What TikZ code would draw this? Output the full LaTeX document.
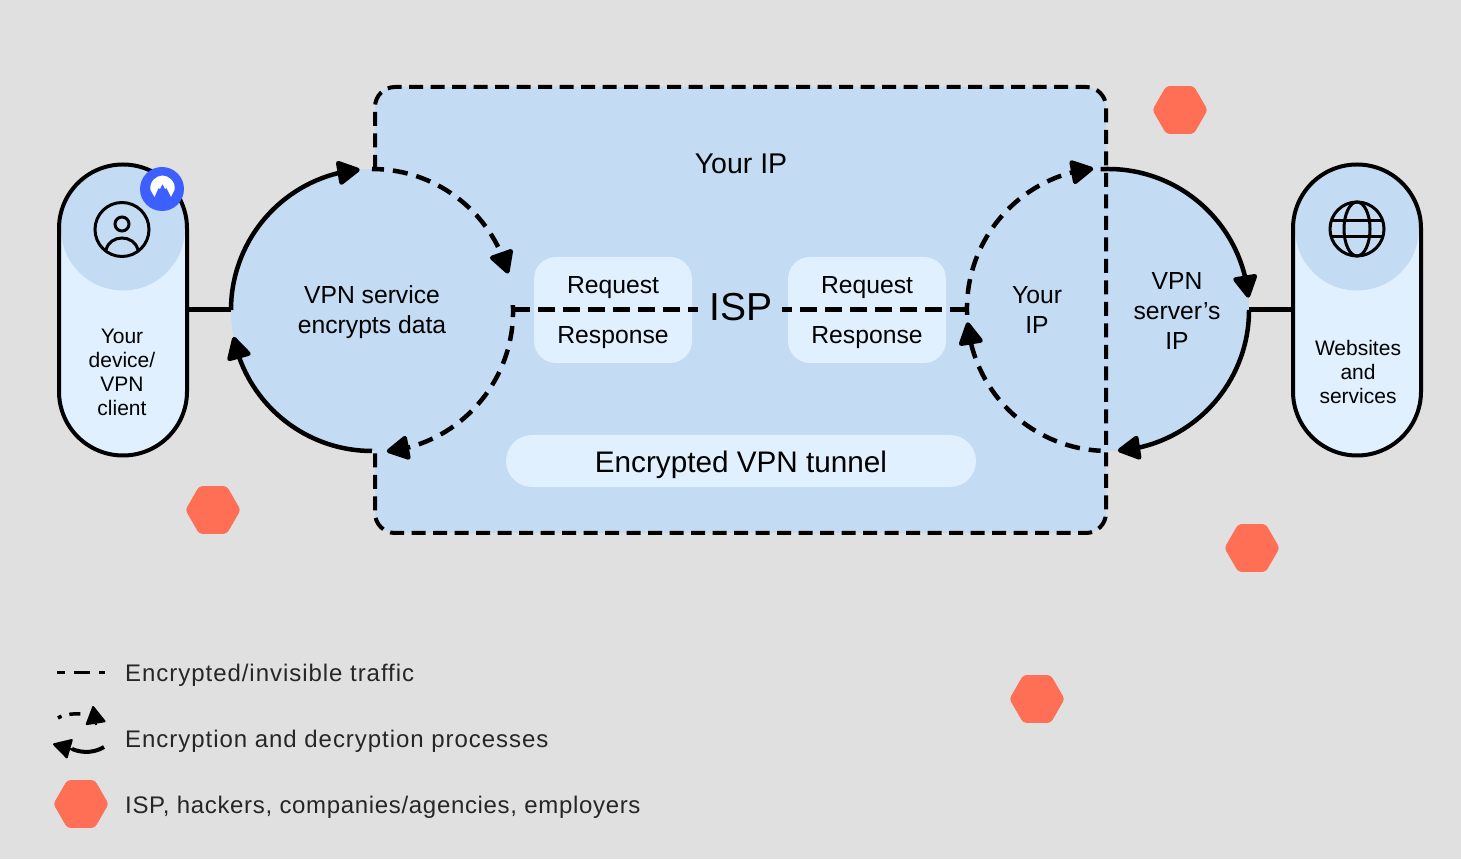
\documentclass[tikz,border=0pt]{standalone}
\usepackage{fontspec}
\setmainfont{Liberation Sans}
\newfontfamily\legendfont[LetterSpace=4]{Liberation Sans}
\newfontfamily\legendtight[LetterSpace=2.8]{Liberation Sans}
\usetikzlibrary{arrows.meta,bending,calc,shapes.geometric}
\definecolor{bgrey}{HTML}{E0E0E0}
\definecolor{capblue}{HTML}{C3DBF3}
\definecolor{palebox}{HTML}{E0F0FF}
\definecolor{threat}{HTML}{FF6F55}
\definecolor{nordblue}{HTML}{3E5FFF}
\begin{document}
\begin{tikzpicture}[
    x=1pt, y=1pt,
    pill/.style={draw, line width=4pt, fill=palebox, rounded corners=64pt, minimum width=128pt, minimum height=291pt, inner sep=0pt, outer sep=0pt,
        path picture={\fill[capblue] ($(path picture bounding box.north)+(0,-64)$) circle (62);}},
    bubble/.style={circle, fill=capblue, minimum size=282pt, inner sep=0pt, outer sep=0pt},
    pad/.style={fill=palebox, rounded corners=22pt, minimum width=158pt, minimum height=106pt, inner sep=0pt},
    word/.style={font=\fontsize{24.7}{30}\selectfont, align=center, inner sep=0pt},
    small/.style={font=\fontsize{21}{24}\selectfont, align=center, inner sep=0pt},
    legend/.style={font=\fontsize{24}{30}\selectfont, anchor=west, inner sep=0pt, text=black!85},
    hex/.style={regular polygon, regular polygon sides=6, fill=threat, draw=threat, line width=1pt, minimum size=54pt, inner sep=0pt, rounded corners=3pt},
    solidarc/.style={line width=4.5pt, -{Triangle[length=25pt,width=26pt,round]}},
    dasharc/.style={line width=4.5pt, dash pattern=on 15pt off 9pt, dash phase=3pt, -{Triangle[length=25pt,width=26pt,round]}},
    tiponly/.style={line width=2pt, -{Triangle[length=19pt,width=21pt,round]}},
    wire/.style={line width=5pt},
    ispline/.style={line width=5pt, dash pattern=on 17pt off 8pt},
    boxline/.style={line width=4pt, dash pattern=on 14pt off 7.5pt, rounded corners=20pt},
    icon/.style={line width=3pt}
]
\fill[bgrey] (0,0) rectangle (1461,859);

% blue area with the tunnel
\node[fill=capblue, rounded corners=20pt, minimum width=731pt, minimum height=446pt, inner sep=0pt, outer sep=0pt] (ipbox) at (740.5,549) {};
\node[bubble] (clientloop) at (372,549) {};
\node[bubble] (serverloop) at (1108,549) {};
\draw[boxline] (ipbox.west |- clientloop.north) -- (ipbox.north west) -- (ipbox.north east) -- (ipbox.south east) -- (ipbox.south west) -- (ipbox.west |- clientloop.south);

\node[pad] (reqleft) at (613,549) {};
\node[pad] (reqright) at (867,549) {};
\node[word] (toptext) at (741,695) {\fontsize{28.5}{30}\selectfont Your IP};
\node[word] (clienttext) at (372,547) {VPN service\\encrypts data};
\node[word] at (613,571) {Request};
\node[word] at (613,521) {Response};
\node[word] at (867,571) {Request};
\node[word] at (867,521) {Response};
\node[inner sep=0pt, font=\fontsize{39}{40}\selectfont] (isp) at (741,552) {ISP};
\node[word] (yourip) at (1037,549) {Your\\IP};
\node[word] (serverip) at (1177,548) {VPN\\server’s\\IP};
\node[fill=palebox, rounded corners=26pt, minimum width=470pt, minimum height=52pt, inner sep=0pt] (tunnel) at (741,398) {};
\node[inner sep=0pt, font=\fontsize{29.7}{30}\selectfont] at (741,394.5) {Encrypted VPN tunnel};

% ends
\node[pill] (device) at (123,549) {};
\node[pill] (sites) at (1357,549) {};
\node[small] at (122,487) {Your\\device/\\VPN\\client};
\node[small] at (1358,487) {Websites\\and\\services};
\draw[wire] (device.east) -- (clientloop.west);
\draw[wire] (serverloop.east) -- (sites.west);

% the two loops
\draw[solidarc] (clientloop.270) arc[start angle=270, end angle=191, radius=141];
\draw[solidarc] (clientloop.180) arc[start angle=180, end angle=95, radius=141];
\draw[dasharc] (clientloop.90) arc[start angle=90, end angle=15, radius=141];
\draw[dasharc] (clientloop.2.5) arc[start angle=2.5, end angle=-84, radius=141];
\draw[dasharc] (serverloop.182.5) arc[start angle=182.5, end angle=96, radius=141];
\draw[solidarc] (serverloop.93) arc[start angle=93, end angle=5, radius=141];
\draw[solidarc] (serverloop.0) arc[start angle=0, end angle=-86, radius=141];
\draw[dasharc] (serverloop.267) arc[start angle=267, end angle=185, radius=141];

\draw[ispline] (clientloop.east) -- (698,549);
\draw[ispline] (serverloop.west) -- (782,549);

% icons
\draw[icon] (122,629.5) circle (27);
\draw[icon] (122,635) circle (7);
\draw[icon] (106,609) .. controls (110,625) and (134,625) .. (138,609);
\draw[icon] (1357,630) circle (27);
\draw[icon] (1357,630) ellipse (13 and 27);
\draw[icon] (1331,638) -- (1383,638);
\draw[icon] (1331,622) -- (1383,622);
\fill[nordblue] (162,670) circle (22);
\fill[white] (154.5,662) -- (150.5,669) .. controls (149,677) and (156,683.5) .. (162.5,683.5) .. controls (169,683.5) and (176,677) .. (174.5,669) -- (171,662) -- (166.5,671) -- (165,670) -- (162.5,675) -- (160,670) -- (158.5,671) -- cycle;

% threats
\node[hex] (hexa) at (1180,749) {};
\node[hex] (hexb) at (213,349) {};
\node[hex] (hexc) at (1252,311) {};
\node[hex] (hexd) at (1037,160) {};

% legend
\coordinate (keya) at (57,186.5);
\coordinate (keyb) at (105,186.5);
\draw[line width=3.5pt, dash pattern=on 16pt off 9pt, dash phase=8pt] (keya) -- (keyb);
\node[legend] at (125,183.5) {\legendfont Encrypted/invisible traffic};
\coordinate (loopa) at (58,141);
\coordinate (loopb) at (84,145);
\draw[line width=3.5pt, dash pattern=on 11pt off 8pt, dash phase=7pt] (loopa) .. controls (64,145) and (74,145.5) .. (loopb);
\draw[tiponly] (96,134) -- (93,153);
\coordinate (loopc) at (104,112);
\coordinate (loopd) at (72,110);
\draw[line width=4pt] (loopc) .. controls (96,107) and (84,105) .. (loopd);
\draw[tiponly] (72,109.5) -- (53,115);
\node[legend] at (125,117.5) {\legendfont Encryption and decryption processes};
\node[hex] (hexe) at (81,55) {};
\node[legend] at (125,51.5) {\legendtight ISP, hackers, companies/agencies, employers};
\end{tikzpicture}
\end{document}
